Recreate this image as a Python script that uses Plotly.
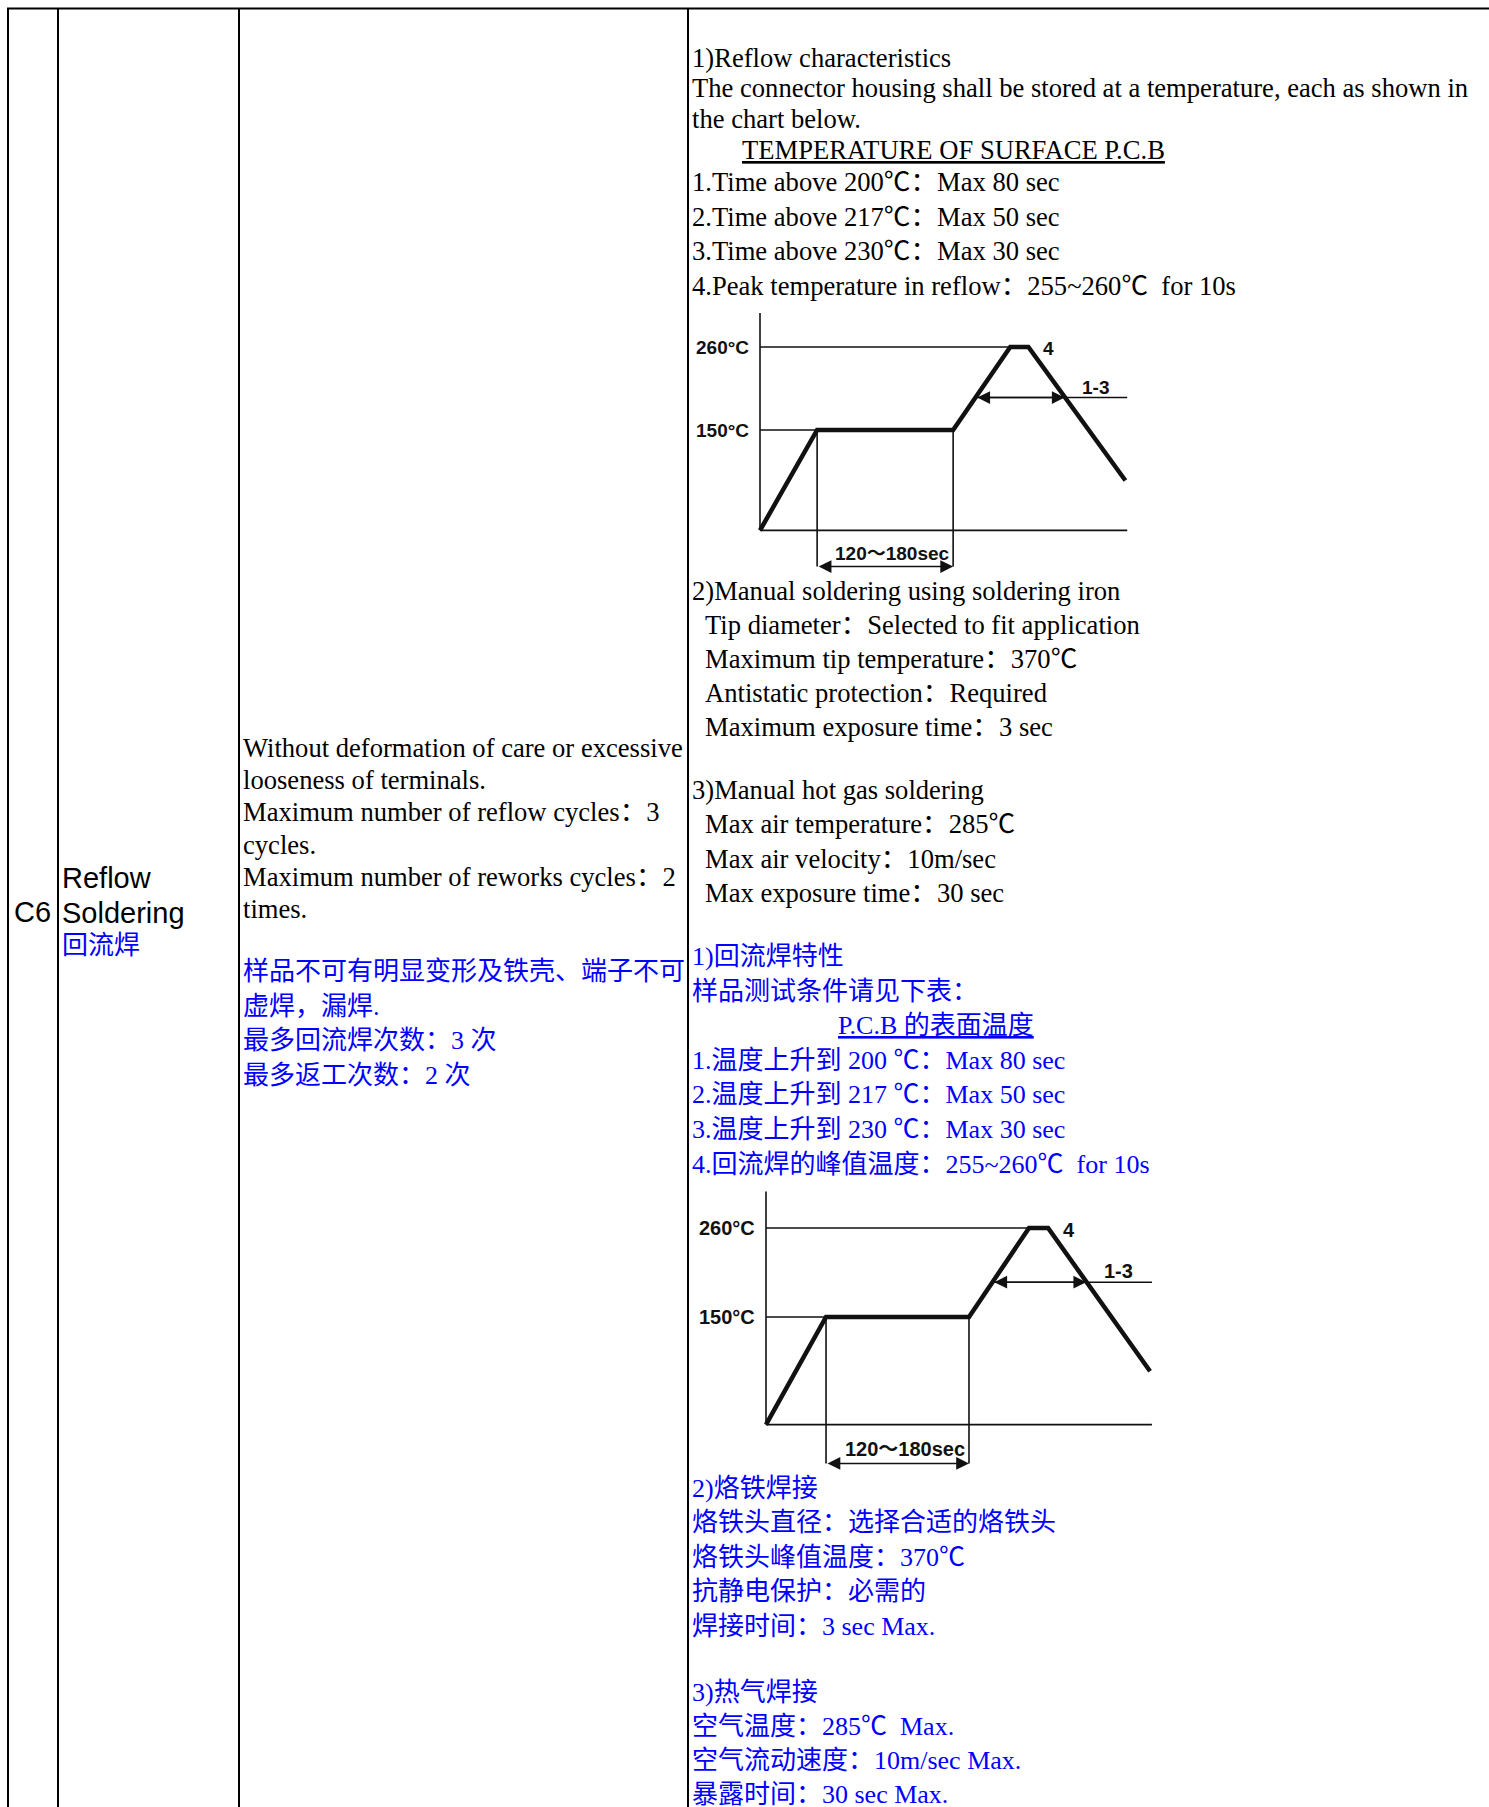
import plotly.graph_objects as go

# ---- reflow profile (schematic), time in sec, temperature in degC ----
profile_time = [0, 63, 213, 276, 296, 403]
profile_temp = [17, 150, 150, 260, 260, 83]
axis_top_temp = 305
axis_end_time = 405
temp_levels = [260, 150]
temp_labels = ["260°C", "150°C"]
level_ends = [276, 63]            # where each level line meets the profile
soak_window = [63, 213]
soak_floor = -31
soak_label = "120～180sec"
liquidus_temp = 193
liquidus_span = [238, 336]        # rising / falling crossing of the profile
peak_label = "4"
span_label = "1-3"

# ---- table text ----
col1_text = ["C6"]
col2_text = ["Reflow", "Soldering"]
col2_cn = ["回流焊"]
col3_en = [
    "Without deformation of care or excessive",
    "looseness of terminals.",
    "Maximum number of reflow cycles：3",
    "cycles.",
    "Maximum number of reworks cycles：2",
    "times.",
]
col3_cn = [
    "样品不可有明显变形及铁壳、端子不可",
    "虚焊，漏焊.",
    "最多回流焊次数：3 次",
    "最多返工次数：2 次",
]
en_intro = [
    "1)Reflow characteristics",
    "The connector housing shall be stored at a temperature, each as shown in",
    "the chart below.",
]
en_title = "TEMPERATURE OF SURFACE P.C.B"
en_items = [
    "1.Time above 200℃：Max 80 sec",
    "2.Time above 217℃：Max 50 sec",
    "3.Time above 230℃：Max 30 sec",
    "4.Peak temperature in reflow：255~260℃  for 10s",
]
en_iron_head = "2)Manual soldering using soldering iron"
en_iron = [
    "Tip diameter：Selected to fit application",
    "Maximum tip temperature：370℃",
    "Antistatic protection：Required",
    "Maximum exposure time：3 sec",
]
en_gas_head = "3)Manual hot gas soldering"
en_gas = [
    "Max air temperature：285℃",
    "Max air velocity：10m/sec",
    "Max exposure time：30 sec",
]
cn_intro = ["1)回流焊特性", "样品测试条件请见下表："]
cn_title = "P.C.B 的表面温度"
cn_items = [
    "1.温度上升到 200 ℃：Max 80 sec",
    "2.温度上升到 217 ℃：Max 50 sec",
    "3.温度上升到 230 ℃：Max 30 sec",
    "4.回流焊的峰值温度：255~260℃  for 10s",
]
cn_iron = ["2)烙铁焊接", "烙铁头直径：选择合适的烙铁头", "烙铁头峰值温度：370℃",
           "抗静电保护：必需的", "焊接时间：3 sec Max."]
cn_gas = ["3)热气焊接", "空气温度：285℃  Max.", "空气流动速度：10m/sec Max.",
          "暴露时间：30 sec Max."]

W, H = 1489, 1807
SERIF = "Times New Roman, Liberation Serif, Noto Sans CJK SC, serif"
SANS = "Arial, Liberation Sans, Noto Sans CJK SC, sans-serif"
BLUE = "#0000ff"
EN, CN = 26.6, 26

fig = go.Figure()
annotations = []


def add_lines(lines, x, y0, step, color="black", size=EN, family=SERIF):
    for i, t in enumerate(lines):
        annotations.append(dict(
            x=x, y=y0 + i * step, xref="x", yref="y", text=t, showarrow=False,
            xanchor="left", yanchor="middle",
            font=dict(family=family, size=size, color=color)))


# page (pixel) axis
fig.add_trace(go.Scatter(x=[0, W], y=[0, H], mode="markers",
                         marker=dict(opacity=0), hoverinfo="skip", showlegend=False))

# table grid
shapes = []
for gx in [8, 58, 239, 688]:
    shapes.append(dict(type="line", xref="x", yref="y", x0=gx, x1=gx, y0=8, y1=H,
                       line=dict(color="black", width=2)))
shapes.append(dict(type="line", xref="x", yref="y", x0=7, x1=W, y0=8.5, y1=8.5,
                   line=dict(color="black", width=2)))

add_lines(col1_text, 12, 912, 0, size=29, family=SANS)
add_lines(col2_text, 60, 878, 34.8, size=29, family=SANS)
add_lines(col2_cn, 60, 945, 0, color=BLUE, size=CN)
add_lines(col3_en, 240.5, 748, 32.2)
add_lines(col3_cn, 240.5, 971.6, 34.5, color=BLUE, size=CN)

COL4, INDENT = 689.5, 703
add_lines(en_intro, COL4, 57.6, 30.7)
add_lines(["<u>" + en_title + "</u>"], 740, 149.8, 0)
add_lines(en_items, COL4, 182, 34.6)
add_lines([en_iron_head], COL4, 591, 0)
add_lines(en_iron, INDENT, 624.7, 34.2)
add_lines([en_gas_head], COL4, 789.5, 0)
add_lines(en_gas, INDENT, 824, 34.5)

add_lines(cn_intro, COL4, 956.6, 34.4, color=BLUE, size=CN)
add_lines(["<u>" + cn_title + "</u>"], 836, 1025.7, 0, color=BLUE, size=CN)
add_lines(cn_items, COL4, 1060, 34.8, color=BLUE, size=CN)
add_lines(cn_iron, COL4, 1488, 34.5, color=BLUE, size=CN)
add_lines(cn_gas, COL4, 1692, 34, color=BLUE, size=CN)

# two copies of the reflow chart: (axis suffix, origin px x, px y of 150C,
#                                   px per sec, px per degC, label size)
charts = [("2", 760, 430, 0.9067, 0.7545, 19),
          ("3", 766, 1317, 0.953, 0.809, 20)]

layout_axes = {}
for sfx, ox, oy150, sx, sy, fs in charts:
    xa, ya = "x" + sfx, "y" + sfx
    px_left, px_right = ox - 60, ox + 420
    px_top, px_bot = oy150 - 130, oy150 + 160
    layout_axes["xaxis" + sfx] = dict(
        domain=[px_left / W, px_right / W],
        range=[(px_left - ox) / sx, (px_right - ox) / sx],
        visible=False, fixedrange=True)
    layout_axes["yaxis" + sfx] = dict(
        domain=[1 - px_bot / H, 1 - px_top / H],
        range=[150 - (px_bot - oy150) / sy, 150 + (oy150 - px_top) / sy],
        visible=False, fixedrange=True)

    base = profile_temp[0]
    thin = dict(color="#111111", width=1.6)
    lab_font = dict(family=SANS, size=fs, color="#111111")
    # axes frame
    fig.add_trace(go.Scatter(
        x=[0, 0, None, 0, axis_end_time],
        y=[base, axis_top_temp, None, base, base],
        mode="lines", line=thin, xaxis=xa, yaxis=ya, showlegend=False, hoverinfo="skip"))
    # level lines, soak window drops and liquidus line
    lx, ly = [], []
    for lvl, end in zip(temp_levels, level_ends):
        lx += [0, end, None]
        ly += [lvl, lvl, None]
    for t in soak_window:
        lx += [t, t, None]
        ly += [150, soak_floor, None]
    lx += [liquidus_span[0], axis_end_time]
    ly += [liquidus_temp, liquidus_temp]
    fig.add_trace(go.Scatter(x=lx, y=ly, mode="lines", line=thin, xaxis=xa, yaxis=ya,
                             showlegend=False, hoverinfo="skip"))
    # profile
    fig.add_trace(go.Scatter(x=profile_time, y=profile_temp, mode="lines",
                             line=dict(color="#111111", width=4.5), xaxis=xa, yaxis=ya,
                             showlegend=False, hoverinfo="skip"))

    for lvl, lab in zip(temp_levels, temp_labels):
        annotations.append(dict(x=0, y=lvl, xref=xa, yref=ya, text="<b>" + lab + "</b>",
                                showarrow=False, xanchor="right", yanchor="middle",
                                xshift=-9, font=lab_font))
    annotations.append(dict(x=318, y=258, xref=xa, yref=ya, text="<b>" + peak_label + "</b>",
                            showarrow=False, font=lab_font))
    annotations.append(dict(x=370, y=liquidus_temp, xref=xa, yref=ya,
                            text="<b>" + span_label + "</b>", showarrow=False,
                            yanchor="bottom", yshift=-2, font=lab_font))
    annotations.append(dict(x=146, y=soak_floor, xref=xa, yref=ya,
                            text="<b>" + soak_label + "</b>", showarrow=False,
                            yanchor="bottom", yshift=1, font=lab_font))
    # double-headed arrows
    for (x0, x1, yv) in [(liquidus_span[0], liquidus_span[1], liquidus_temp),
                         (soak_window[0], soak_window[1], soak_floor)]:
        annotations.append(dict(x=x1, y=yv, ax=x0, ay=yv, xref=xa, yref=ya,
                                axref=xa, ayref=ya, text="", showarrow=True,
                                arrowhead=2, arrowside="end+start", arrowsize=1.6,
                                arrowwidth=1.6, arrowcolor="#111111", standoff=0,
                                startstandoff=0))

fig.update_layout(
    width=W, height=H,
    margin=dict(l=0, r=0, t=0, b=0),
    paper_bgcolor="white", plot_bgcolor="rgba(0,0,0,0)",
    xaxis=dict(range=[0, W], domain=[0, 1], visible=False, fixedrange=True),
    yaxis=dict(range=[H, 0], domain=[0, 1], visible=False, fixedrange=True),
    shapes=shapes, annotations=annotations, showlegend=False,
    **layout_axes,
)
# the page is the figure: drop the browser's default body margin
fig.write_html("out.html", config={"displayModeBar": False},
               post_script="document.body.style.margin='0px';")
